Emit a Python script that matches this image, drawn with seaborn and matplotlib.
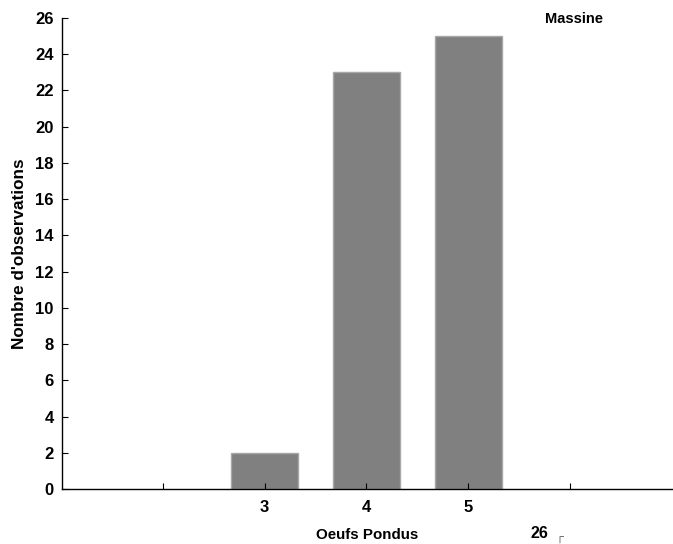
import matplotlib
matplotlib.use("Agg")
import matplotlib.pyplot as plt
import seaborn as sns
import pandas as pd

oeufs = [3, 4, 5]
counts = [2, 23, 25]
xticks = [2, 3, 4, 5, 6]
xticklabels = ["", "3", "4", "5", ""]
yticks = list(range(0, 27, 2))

sns.set_style("white")
plt.rcParams['font.family'] = ['Liberation Sans', 'DejaVu Sans']
plt.rcParams['text.color'] = 'black'
plt.rcParams['axes.labelcolor'] = 'black'
plt.rcParams['xtick.color'] = 'black'
plt.rcParams['ytick.color'] = 'black'

df = pd.DataFrame({"Oeufs Pondus": oeufs, "Nombre d'observations": counts})

fig = plt.figure(figsize=(6.73, 5.44), dpi=100)
ax = fig.add_axes([62/673, 1 - 489/544, 610/673, 471/544])

sns.barplot(data=df, x="Oeufs Pondus", y="Nombre d'observations", native_scale=True,
            width=0.66, color="#808080", saturation=1, edgecolor="#a8a8a8",
            linewidth=1.0, ax=ax)

ax.set_xlim(1.01, 7.0)
ax.set_ylim(0, 26)
ax.set_xticks(xticks)
ax.set_xticklabels(xticklabels)
ax.set_yticks(yticks)
ax.set_yticklabels([str(v) for v in yticks])

for s in ["top", "right"]:
    ax.spines[s].set_visible(False)
for s in ["left", "bottom"]:
    ax.spines[s].set_color("black")
    ax.spines[s].set_linewidth(1.0)
    ax.spines[s].set_zorder(5)

ax.tick_params(axis="both", direction="in", length=4, width=0.8, color="black",
               labelsize=12, labelcolor="black", bottom=True, left=True)
ax.tick_params(axis="y", pad=6)
ax.tick_params(axis="x", pad=8)
for lab in ax.get_xticklabels() + ax.get_yticklabels():
    lab.set_fontweight("bold")
ax.set_axisbelow(False)
for t in ax.xaxis.get_major_ticks() + ax.yaxis.get_major_ticks():
    t.tick1line.set_zorder(6)

ax.set_xlabel("Oeufs Pondus", fontsize=10.9, fontweight="bold", labelpad=9)
ax.set_ylabel("Nombre d'observations", fontsize=12.3, fontweight="bold", labelpad=6)
ax.grid(False)

fig.text(574/673, 1 - 19/544, "Massine", fontsize=10.5,
         fontweight="bold", ha="center", va="center")
fig.text(539/673, 1 - 533/544, "26", fontsize=11.5, fontweight="bold",
         ha="center", va="center")
fig.text(559/673, 1 - 539/544, "\u250c", fontsize=8, color="#555555",
         ha="center", va="center")

fig.savefig("out.png", dpi=100)
